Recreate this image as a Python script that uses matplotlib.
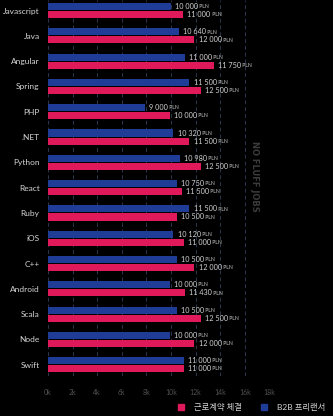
import matplotlib.pyplot as plt
from matplotlib.lines import Line2D

# --- data -------------------------------------------------------------
techs = ['Javascript', 'Java', 'Angular', 'Spring', 'PHP', '.NET', 'Python',
         'React', 'Ruby', 'iOS', 'C++', 'Android', 'Scala', 'Node', 'Swift']

# bar lengths as drawn in the picture (PLN)
b2b_bar = [10000, 10650, 11100, 11500, 7900, 10200, 10700,
           10500, 11500, 10200, 10500, 9900, 10500, 9900, 11050]
uop_bar = [11000, 11900, 13500, 12400, 9900, 11500, 12450,
           10900, 10500, 11050, 11900, 11100, 12450, 11900, 11050]

# printed value labels
b2b_lbl = ['10 000', '10 640', '11 000', '11 500', '9 000', '10 320', '10 980',
           '10 750', '11 500', '10 120', '10 500', '10 000', '10 500', '10 000', '11 000']
uop_lbl = ['11 000', '12 000', '11 750', '12 500', '10 000', '11 500', '12 500',
           '11 500', '10 500', '11 000', '12 000', '11 430', '12 500', '12 000', '11 000']

xticks = [0, 2000, 4000, 6000, 8000, 10000, 12000, 14000, 16000, 18000]

BLUE = '#1f3c96'
RED = '#e0195a'
TXT = '#d4d4d4'
FONT = ['Lato', 'Noto Sans CJK KR', 'DejaVu Sans']

plt.rcParams['font.family'] = FONT

fig = plt.figure(figsize=(3.33, 4.16), dpi=100, facecolor='black')
ax = fig.add_axes([0.144, 0.096, 0.665, 0.904], facecolor='black')

y = list(range(len(techs)))
h = 0.28
off = 0.16
ax.barh([v - off for v in y], b2b_bar, height=h, color=BLUE, zorder=3)
ax.barh([v + off for v in y], uop_bar, height=h, color=RED, zorder=3)


def label(xv, yv, num):
    t = ax.annotate(num, xy=(xv, yv), xytext=(3, 0), textcoords='offset points',
                    ha='left', va='center', fontsize=5.2, color=TXT, zorder=4)
    ax.annotate(' PLN', xy=(1, 0.12), xycoords=t, ha='left', va='bottom',
                fontsize=3.6, color=TXT, zorder=4)


for i in y:
    label(b2b_bar[i], i - off, b2b_lbl[i])
    label(uop_bar[i], i + off, uop_lbl[i])

ax.set_xlim(0, 18000)
ax.set_ylim(14.45, -0.42)
ax.set_xticks(xticks)
ax.set_xticklabels([f'{v // 1000}k' for v in xticks])
ax.set_yticks(y)
ax.set_yticklabels(techs)
ax.tick_params(axis='x', length=0, labelsize=5, labelcolor='#505050', pad=9)
ax.tick_params(axis='y', length=0, labelsize=6, labelcolor=TXT, pad=6)
for s in ax.spines.values():
    s.set_visible(False)
ax.grid(axis='x', color='#2c3650', linestyle=(0, (4, 3)), linewidth=0.7, zorder=0)

# watermark
fig.text(0.763, 0.577, 'NO FLUFF JOBS', rotation=-90, ha='center', va='center',
         fontsize=6, fontweight='black', color='#3c3c3c', family='DejaVu Sans Condensed')

handles = [Line2D([], [], marker='s', ls='', color=RED, markersize=4),
           Line2D([], [], marker='s', ls='', color=BLUE, markersize=4)]
leg = fig.legend(handles, ['근로계약 체결', 'B2B 프리랜서'], loc='lower right',
                 bbox_to_anchor=(1.0, -0.005), ncol=2, frameon=False, fontsize=6,
                 handlelength=1.2, handletextpad=1.0, columnspacing=2.0)
for t in leg.get_texts():
    t.set_color(TXT)

fig.savefig('out.png', dpi=100, facecolor='black')
